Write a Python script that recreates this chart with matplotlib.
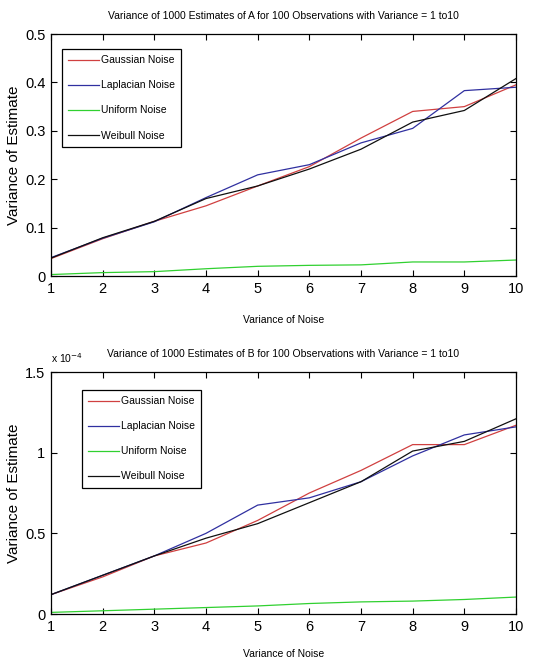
import numpy as np
import matplotlib
matplotlib.use('Agg')
import matplotlib.pyplot as plt

x = np.arange(1, 11)
labels = ['Gaussian Noise', 'Laplacian Noise', 'Uniform Noise', 'Weibull Noise']
colors = ['#d04040', '#3030a0', '#30d030', '#101010']

# variance of estimate of A
a_gauss = [0.036, 0.077, 0.113, 0.145, 0.186, 0.226, 0.285, 0.340, 0.350, 0.395]
a_lap = [0.038, 0.078, 0.112, 0.162, 0.209, 0.230, 0.275, 0.305, 0.383, 0.390]
a_unif = [0.003, 0.007, 0.009, 0.015, 0.020, 0.022, 0.023, 0.029, 0.029, 0.033]
a_weib = [0.037, 0.079, 0.113, 0.160, 0.186, 0.221, 0.262, 0.318, 0.342, 0.408]

# variance of estimate of B, in units of 1e-4
b_gauss = [0.12, 0.23, 0.36, 0.44, 0.58, 0.75, 0.89, 1.05, 1.05, 1.17]
b_lap = [0.12, 0.24, 0.36, 0.50, 0.675, 0.72, 0.82, 0.98, 1.11, 1.16]
b_unif = [0.01, 0.02, 0.03, 0.04, 0.05, 0.065, 0.075, 0.08, 0.09, 0.105]
b_weib = [0.12, 0.24, 0.36, 0.47, 0.56, 0.69, 0.82, 1.01, 1.07, 1.21]

plt.rcParams['font.family'] = ['Liberation Sans']

fig = plt.figure(figsize=(5.52, 6.59), dpi=100)
W, H = 552.0, 659.0

def make_axes(top, bottom):
    ax = fig.add_axes([51 / W, 1 - bottom / H, (516 - 51) / W, (bottom - top) / H])
    ax.tick_params(direction='in', top=True, right=True, labelsize=10.5, length=4, pad=4)
    ax.set_xlim(1, 10)
    ax.set_xticks(x)
    for s in ax.spines.values():
        s.set_linewidth(0.9)
    return ax

def style_legend(ax, loc):
    leg = ax.legend(loc='upper left', bbox_to_anchor=loc, fancybox=False,
                    edgecolor='black', framealpha=1, fontsize=7.5,
                    handlelength=2.9, handletextpad=0.2, borderpad=0.6,
                    borderaxespad=0, labelspacing=1.45)
    leg.get_frame().set_linewidth(0.9)

ax1 = make_axes(34, 276)
for ys, c, lab in zip([a_gauss, a_lap, a_unif, a_weib], colors, labels):
    ax1.plot(x, ys, color=c, lw=0.9, label=lab)
ax1.set_ylim(0, 0.5)
ax1.set_yticks([0, 0.1, 0.2, 0.3, 0.4, 0.5])
ax1.set_yticklabels(['0', '0.1', '0.2', '0.3', '0.4', '0.5'])
ax1.set_title('Variance of 1000 Estimates of A for 100 Observations with Variance = 1 to10',
              fontsize=7.5, pad=11)
ax1.set_xlabel('Variance of Noise', fontsize=7.5, labelpad=14)
ax1.set_ylabel('Variance of Estimate', fontsize=11, labelpad=3)
style_legend(ax1, (0.024, 0.938))

ax2 = make_axes(372, 614)
for ys, c, lab in zip([b_gauss, b_lap, b_unif, b_weib], colors, labels):
    ax2.plot(x, ys, color=c, lw=0.9, label=lab)
ax2.set_ylim(0, 1.5)
ax2.set_yticks([0, 0.5, 1, 1.5])
ax2.set_yticklabels(['0', '0.5', '1', '1.5'])
ax2.set_title('Variance of 1000 Estimates of B for 100 Observations with Variance = 1 to10',
              fontsize=7.5, pad=11)
ax2.set_xlabel('Variance of Noise', fontsize=7.5, labelpad=11)
ax2.set_ylabel('Variance of Estimate', fontsize=11, labelpad=3)
ax2.text(0.0, 1.03, r'x 10$^{-4}$', transform=ax2.transAxes, fontsize=7.5, va='bottom')
style_legend(ax2, (0.067, 0.926))

fig.savefig('out.png', dpi=100)
